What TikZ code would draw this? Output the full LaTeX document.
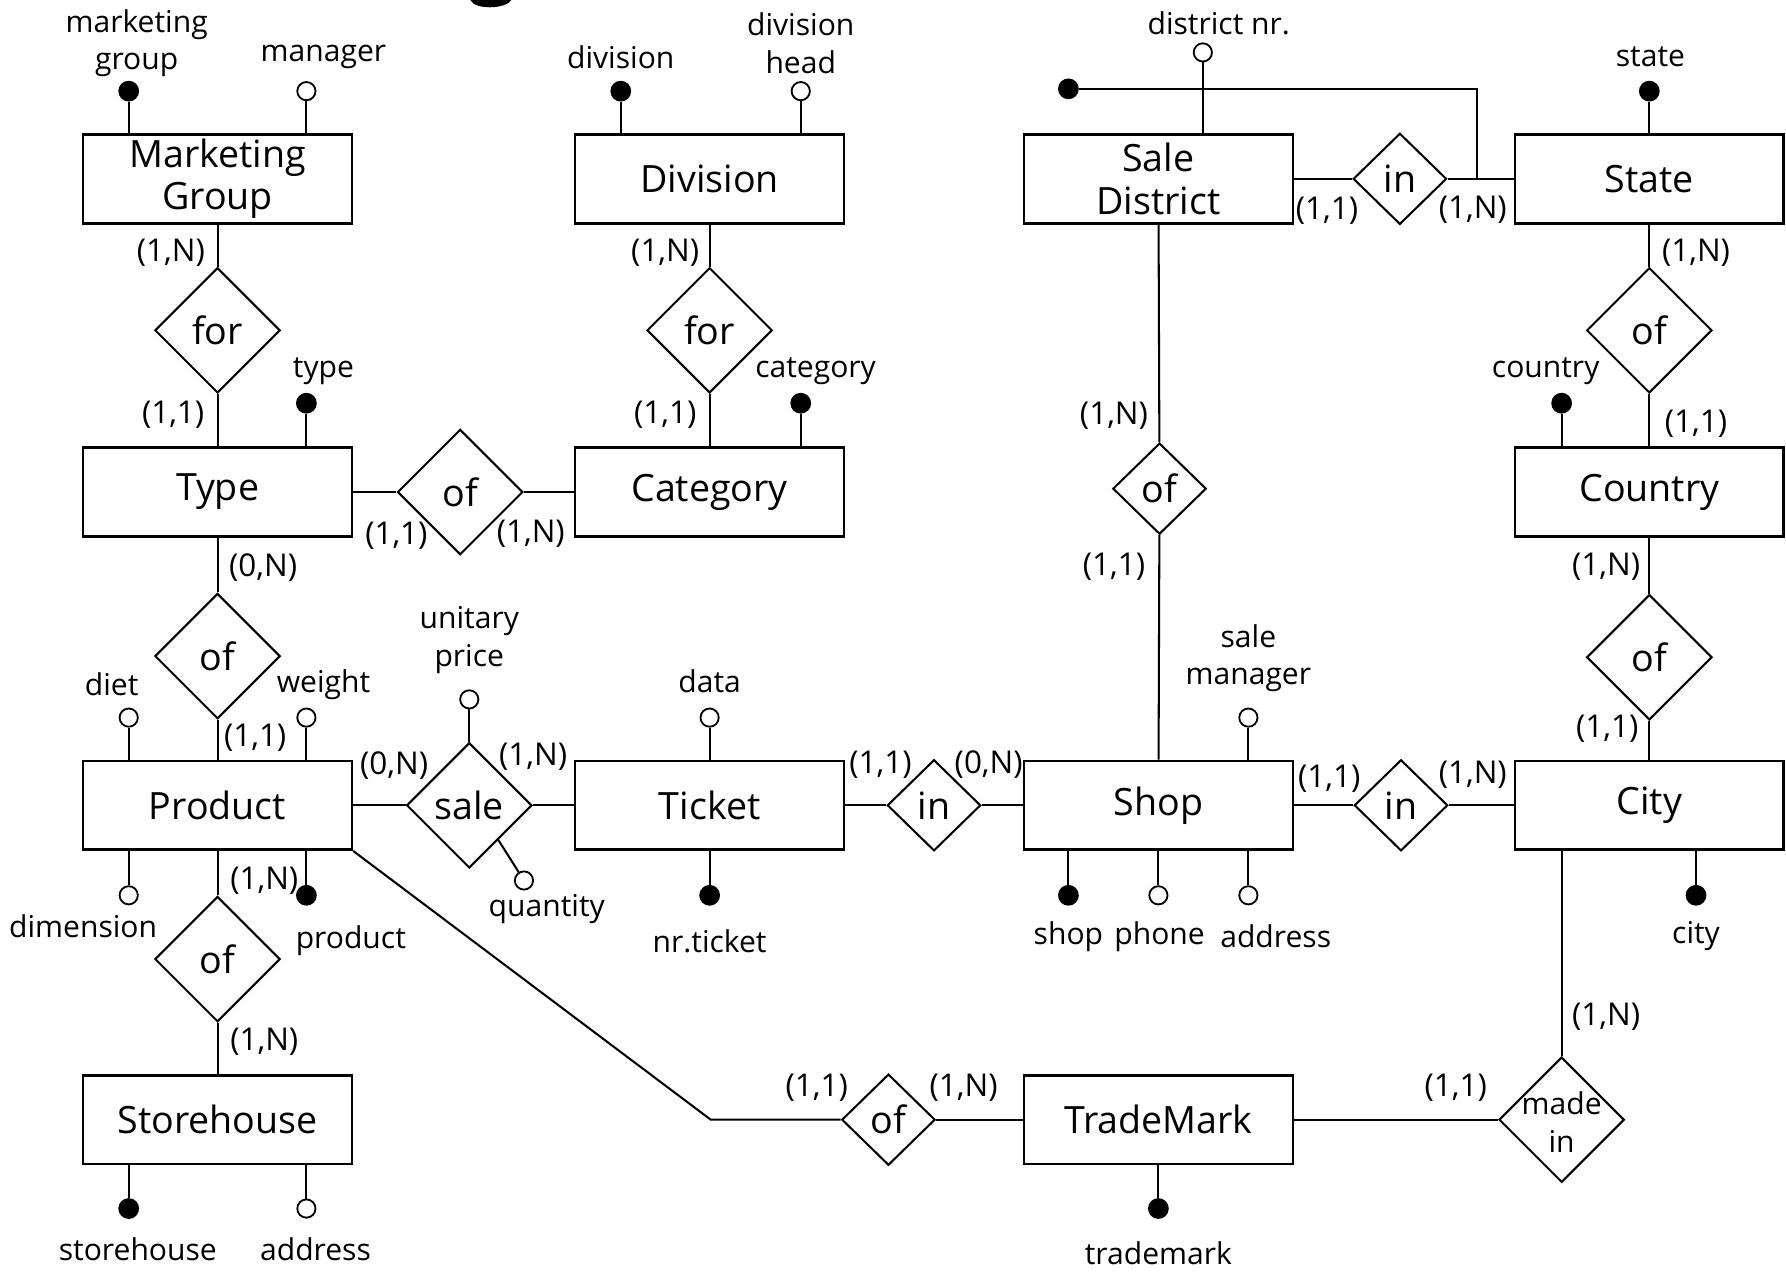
\documentclass[tikz,border=0pt]{standalone}
\usepackage{fontspec}
\setmainfont{Open Sans}
\usetikzlibrary{shapes.geometric}
\begin{document}
\begin{tikzpicture}[x=0.5pt,y=-0.5pt,
  ent/.style={draw,rectangle,line width=1.1pt,minimum width=118pt,minimum height=39pt,
    inner sep=0pt,align=center,font=\fontsize{16.5}{18.5}\selectfont},
  rel/.style={draw,diamond,line width=0.9pt,minimum width=55pt,minimum height=55pt,
    inner sep=0pt,font=\fontsize{16.5}{18.5}\selectfont},
  srel/.style={rel,minimum width=41pt,minimum height=40pt},
  kid/.style={circle,draw,fill=black,line width=0.6pt,minimum size=8.5pt,inner sep=0pt},
  att/.style={circle,draw,fill=white,line width=0.8pt,minimum size=8pt,inner sep=0pt},
  lbl/.style={inner sep=0pt,align=center,font=\fontsize{13.2}{16.5}\selectfont},
  card/.style={inner sep=0pt,font=\fontsize{13.8}{16}\selectfont},
  lk/.style={line width=0.9pt}
]
\useasboundingbox (0,0) rectangle (1568,1116);

% descender of the heading above the diagram
\fill (413,0) .. controls (417,9) and (444,8) .. (449,0) -- cycle;

% ---------- entities ----------
\node[ent] (mg)  at (191,157) {Marketing\\Group};
\node[ent] (div) at (623,157) {Division};
\node[ent] (sd)  at (1017,157) {Sale\\District};
\node[ent] (st)  at (1448,157) {State};
\node[ent] (ty)  at (191,432) {Type};
\node[ent] (cat) at (623,432) {Category};
\node[ent] (co)  at (1448,432) {Country};
\node[ent] (pr)  at (191,707) {Product};
\node[ent] (ti)  at (623,707) {Ticket};
\node[ent] (sh)  at (1017,707) {Shop};
\node[ent] (ci)  at (1448,707) {City};
\node[ent] (sto) at (191,983) {Storehouse};
\node[ent] (tm)  at (1017,983) {TradeMark};

% ---------- relationships ----------
\node[rel]  (r1)  at (191,290) {for};
\node[rel]  (r2)  at (623,290) {for};
\node[rel]  (r3)  at (404,432) {of};
\node[srel] (r4)  at (1229,157) {in};
\node[rel]  (r5)  at (1448,290) {of};
\node[srel] (r6)  at (1018,429) {of};
\node[rel]  (r7)  at (191,576) {of};
\node[rel]  (r8)  at (412,707) {sale};
\node[srel] (r9)  at (820,707) {in};
\node[srel] (r10) at (1230,707) {in};
\node[rel]  (r11) at (1448,577) {of};
\node[rel]  (r12) at (191,842) {of};
\node[srel] (r13) at (780,983) {of};
\node[rel]  (r14) at (1371,983) {};
\node[lbl]  (r14t) at (1371,985) {made\\in};

% ---------- links ----------
\draw[lk] (mg) -- (r1) -- (ty);
\draw[lk] (div) -- (r2) -- (cat);
\draw[lk] (ty) -- (r3) -- (cat);
\draw[lk] (sd) -- (r4) -- (st);
\draw[lk] (st) -- (r5) -- (co);
\draw[lk] (sd) -- (r6) -- (sh);
\draw[lk] (ty) -- (r7) -- (pr);
\draw[lk] (pr) -- (r8) -- (ti);
\draw[lk] (ti) -- (r9) -- (sh);
\draw[lk] (sh) -- (r10) -- (ci);
\draw[lk] (co) -- (r11) -- (ci);
\draw[lk] (pr) -- (r12) -- (sto);
\coordinate (bend) at (624,983);
\draw[lk] (pr.south east) -- (bend) -- (r13.west);
\draw[lk] (r13) -- (tm);
\draw[lk] (tm) -- (r14.west);
\draw[lk] (ci.south -| r14.north) -- (r14.north);

% ---------- cardinalities ----------
\node[card] at (150,222) {(1,N)};
\node[card] at (152,364) {(1,1)};
\node[card] at (584,222) {(1,N)};
\node[card] at (584,364) {(1,1)};
\node[card] at (348,470) {(1,1)};
\node[card] at (466,469) {(1,N)};
\node[card] at (231,498) {(0,N)};
\node[card] at (224,648) {(1,1)};
\node[card] at (346,672) {(0,N)};
\node[card] at (468,664) {(1,N)};
\node[card] at (773,671) {(1,1)};
\node[card] at (868,671) {(0,N)};
\node[card] at (1167,684) {(1,1)};
\node[card] at (1293,680) {(1,N)};
\node[card] at (1165,185) {(1,1)};
\node[card] at (1293,184) {(1,N)};
\node[card] at (1489,222) {(1,N)};
\node[card] at (1489,372) {(1,1)};
\node[card] at (1410,498) {(1,N)};
\node[card] at (1411,640) {(1,1)};
\node[card] at (978,365) {(1,N)};
\node[card] at (978,498) {(1,1)};
\node[card] at (232,773) {(1,N)};
\node[card] at (232,915) {(1,N)};
\node[card] at (717,955) {(1,1)};
\node[card] at (846,955) {(1,N)};
\node[card] at (1278,955) {(1,1)};
\node[card] at (1410,893) {(1,N)};

% ---------- attributes ----------
% Marketing Group
\node[kid] (a1) at (113,80) {};
\draw[lk] (a1) -- (a1 |- mg.north);
\node[lbl] at (120,38) {marketing\\group};
\node[att] (a2) at (269,80) {};
\draw[lk] (a2) -- (a2 |- mg.north);
\node[lbl] at (284,50) {manager};
% Division
\node[kid] (a3) at (545,80) {};
\draw[lk] (a3) -- (a3 |- div.north);
\node[lbl] at (545,50) {division};
\node[att] (a4) at (703,80) {};
\draw[lk] (a4) -- (a4 |- div.north);
\node[lbl] at (703,38) {division\\head};
% Sale District
\node[att] (a5) at (1056,46) {};
\draw[lk] (a5) -- (a5 |- sd.north);
\node[lbl] at (1070,20) {district nr.};
\node[kid] (a6) at (938,78) {};
\coordinate (kc) at (1297,78);
\coordinate (kj) at (1297,156);
\draw[lk] (a6) -- (kc) -- (kj);
% State
\node[kid] (a7) at (1448,80) {};
\draw[lk] (a7) -- (a7 |- st.north);
\node[lbl] at (1449,50) {state};
% Type
\node[kid] (a8) at (269,354) {};
\draw[lk] (a8) -- (a8 |- ty.north);
\node[lbl] at (284,326) {type};
% Category
\node[kid] (a9) at (703,354) {};
\draw[lk] (a9) -- (a9 |- cat.north);
\node[lbl] at (716,326) {category};
% Country
\node[kid] (a10) at (1371,354) {};
\draw[lk] (a10) -- (a10 |- co.north);
\node[lbl] at (1357,326) {country};
% Product
\node[att] (a11) at (113,630) {};
\draw[lk] (a11) -- (a11 |- pr.north);
\node[lbl] at (98,601) {diet};
\node[att] (a12) at (269,630) {};
\draw[lk] (a12) -- (a12 |- pr.north);
\node[lbl] at (284,601) {weight};
\node[att] (a13) at (113,786) {};
\draw[lk] (a13) -- (a13 |- pr.south);
\node[lbl] at (73,813) {dimension};
\node[kid] (a14) at (269,786) {};
\draw[lk] (a14) -- (a14 |- pr.south);
\node[lbl] at (308,826) {product};
% sale
\node[att] (a15) at (412,614) {};
\draw[lk] (a15) -- (r8.north);
\node[lbl] at (412,562) {unitary\\price};
\node[att] (a16) at (460,773) {};
\draw[lk] (a16) -- (r8.-50);
\node[lbl] at (480,798) {quantity};
% Ticket
\node[att] (a17) at (623,630) {};
\draw[lk] (a17) -- (a17 |- ti.north);
\node[lbl] at (623,598) {data};
\node[kid] (a18) at (623,786) {};
\draw[lk] (a18) -- (a18 |- ti.south);
\node[lbl] at (623,826) {nr.ticket};
% Shop
\node[att] (a19) at (1096,630) {};
\draw[lk] (a19) -- (a19 |- sh.north);
\node[lbl] at (1096,578) {sale\\manager};
\node[kid] (a20) at (938,786) {};
\draw[lk] (a20) -- (a20 |- sh.south);
\node[lbl] at (938,822) {shop};
\node[att] (a21) at (1017,786) {};
\draw[lk] (a21) -- (a21 |- sh.south);
\node[lbl] at (1018,822) {phone};
\node[att] (a22) at (1096,786) {};
\draw[lk] (a22) -- (a22 |- sh.south);
\node[lbl] at (1120,822) {address};
% City
\node[kid] (a23) at (1489,786) {};
\draw[lk] (a23) -- (a23 |- ci.south);
\node[lbl] at (1489,822) {city};
% Storehouse
\node[kid] (a24) at (113,1061) {};
\draw[lk] (a24) -- (a24 |- sto.south);
\node[lbl] at (121,1097) {storehouse};
\node[att] (a25) at (269,1061) {};
\draw[lk] (a25) -- (a25 |- sto.south);
\node[lbl] at (277,1097) {address};
% TradeMark
\node[kid] (a26) at (1017,1061) {};
\draw[lk] (a26) -- (a26 |- tm.south);
\node[lbl] at (1017,1100) {trademark};
\end{tikzpicture}
\end{document}
